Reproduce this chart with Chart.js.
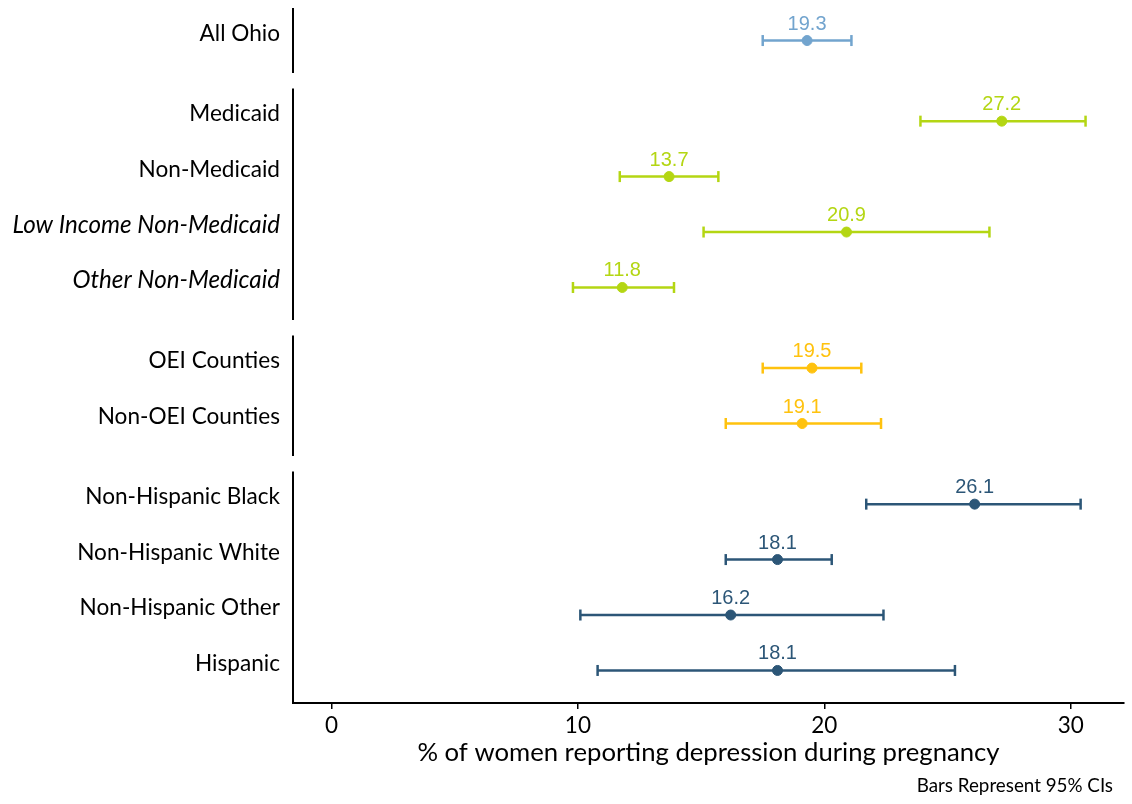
<!DOCTYPE html>
<html>
<head>
<meta charset="utf-8">
<script src="https://cdn.jsdelivr.net/npm/chart.js@4.4.0/dist/chart.umd.min.js"></script>
<style>
  body { margin: 0; background: #fff; }
  #wrap { width: 1132px; height: 804px; }
</style>
</head>
<body>
<div id="wrap"><canvas id="chart" width="1132" height="804"></canvas></div>
<script>
const rowLabels = ["All Ohio", "Medicaid", "Non-Medicaid", "Low Income Non-Medicaid", "Other Non-Medicaid", "OEI Counties", "Non-OEI Counties", "Non-Hispanic Black", "Non-Hispanic White", "Non-Hispanic Other", "Hispanic"];
const rowGroups = [0, 1, 1, 1, 1, 2, 2, 3, 3, 3, 3];
const italicRows = ["Low Income Non-Medicaid", "Other Non-Medicaid"];
const estimates = [19.3, 27.2, 13.7, 20.9, 11.8, 19.5, 19.1, 26.1, 18.1, 16.2, 18.1];
const lowerCI = [17.5, 23.9, 11.7, 15.1, 9.8, 17.5, 16.0, 21.7, 16.0, 10.1, 10.8];
const upperCI = [21.1, 30.6, 15.7, 26.7, 13.9, 21.5, 22.3, 30.4, 20.3, 22.4, 25.3];
const groupColors = ["#72a4ce", "#b4d613", "#ffc20e", "#2c5677"];
const xTicks = [0, 10, 20, 30];

const FONT = "Lato";
const GROUP_GAP = 0.454;   // extra space between groups, in rows
const ROW_PAD = 0.587;     // how far the group bar runs past first/last row

// row position on the y scale: row index plus a gap for each group passed
const rowPos = rowLabels.map((_, i) => i + rowGroups[i] * GROUP_GAP);
const rowColor = (i) => groupColors[rowGroups[i]];

const ciSets = rowLabels.map((label, i) => ({
  label: label + " CI",
  data: [{ x: lowerCI[i], y: rowPos[i] }, { x: upperCI[i], y: rowPos[i] }],
  showLine: true,
  borderColor: rowColor(i),
  borderWidth: 2.5,
  pointStyle: "line",
  pointRotation: 90,
  pointRadius: 5.5,
  pointHoverRadius: 5.5,
  pointBorderColor: rowColor(i),
  pointBorderWidth: 2.5,
  order: 1
}));

const pointSet = {
  label: "Estimate",
  data: estimates.map((v, i) => ({ x: v, y: rowPos[i] })),
  backgroundColor: estimates.map((v, i) => rowColor(i)),
  borderColor: estimates.map((v, i) => rowColor(i)),
  borderWidth: 1,
  pointRadius: 5,
  pointHoverRadius: 5,
  order: 0
};

// left-hand vertical bar for each group of rows
const groupBars = {
  id: "groupBars",
  afterDraw(chart) {
    const { ctx, chartArea, scales: { y } } = chart;
    ctx.save();
    ctx.strokeStyle = "#000";
    ctx.lineWidth = 2;
    groupColors.forEach((c, g) => {
      const rows = rowPos.filter((p, i) => rowGroups[i] === g);
      const top = y.getPixelForValue(rows[0] - ROW_PAD);
      const bottom = y.getPixelForValue(rows[rows.length - 1] + ROW_PAD);
      ctx.beginPath();
      ctx.moveTo(chartArea.left, top);
      ctx.lineTo(chartArea.left, bottom);
      ctx.stroke();
    });
    ctx.restore();
  }
};

const valueLabels = {
  id: "valueLabels",
  afterDatasetsDraw(chart) {
    const { ctx, scales: { x, y } } = chart;
    ctx.save();
    ctx.font = "20px 'Liberation Sans', Arial, sans-serif";
    ctx.textAlign = "center";
    ctx.textBaseline = "alphabetic";
    estimates.forEach((v, i) => {
      ctx.fillStyle = rowColor(i);
      ctx.fillText(v.toFixed(1), x.getPixelForValue(v), y.getPixelForValue(rowPos[i]) - 11);
    });
    ctx.restore();
  }
};

const footnote = {
  id: "footnote",
  afterDraw(chart) {
    const { ctx } = chart;
    ctx.save();
    ctx.font = "18.8px " + FONT;
    ctx.fillStyle = "#000";
    ctx.textAlign = "right";
    ctx.textBaseline = "middle";
    ctx.fillText("Bars Represent 95% CIs", chart.width - 19, 786);
    ctx.restore();
  }
};

new Chart(document.getElementById("chart"), {
  type: "scatter",
  data: { datasets: [pointSet, ...ciSets] },
  options: {
    responsive: false,
    animation: false,
    layout: { padding: { top: 7, right: 7, left: 0, bottom: 0 } },
    plugins: { legend: { display: false }, tooltip: { enabled: false } },
    scales: {
      x: {
        type: "linear",
        min: -1.56,
        max: 32.16,
        afterBuildTicks: (axis) => { axis.ticks = xTicks.map((v) => ({ value: v })); },
        afterFit: (s) => { s.height = 101; s.paddingLeft = 0; s.paddingRight = 0; },
        grid: { display: true, drawOnChartArea: false, drawTicks: true, tickLength: 6, color: "#000", lineWidth: 1.5 },
        border: { display: true, color: "#000", width: 2 },
        ticks: { font: { family: FONT, size: 22.5 }, color: "#000", padding: 3 },
        title: {
          display: true,
          text: "% of women reporting depression during pregnancy",
          font: { family: FONT, size: 25.7 },
          color: "#000",
          padding: { top: 0, bottom: 36 }
        }
      },
      y: {
        type: "linear",
        reverse: true,
        min: -ROW_PAD,
        max: rowPos[rowPos.length - 1] + ROW_PAD,
        afterBuildTicks: (axis) => { axis.ticks = rowPos.map((v) => ({ value: v })); },
        afterFit: (s) => { s.width = 293; s.paddingTop = 0; s.paddingBottom = 0; },
        grid: { display: false, drawTicks: false },
        border: { display: false },
        ticks: {
          autoSkip: false,
          padding: 13,
          labelOffset: -7,
          color: "#000",
          callback: (v, i) => rowLabels[i],
          font: (ctx) => {
            const italic = italicRows.includes(rowLabels[ctx.index]);
            return { family: FONT, size: italic ? 24.2 : 22.6, style: italic ? "italic" : "normal" };
          }
        }
      }
    }
  },
  plugins: [groupBars, valueLabels, footnote]
});
</script>
</body>
</html>
